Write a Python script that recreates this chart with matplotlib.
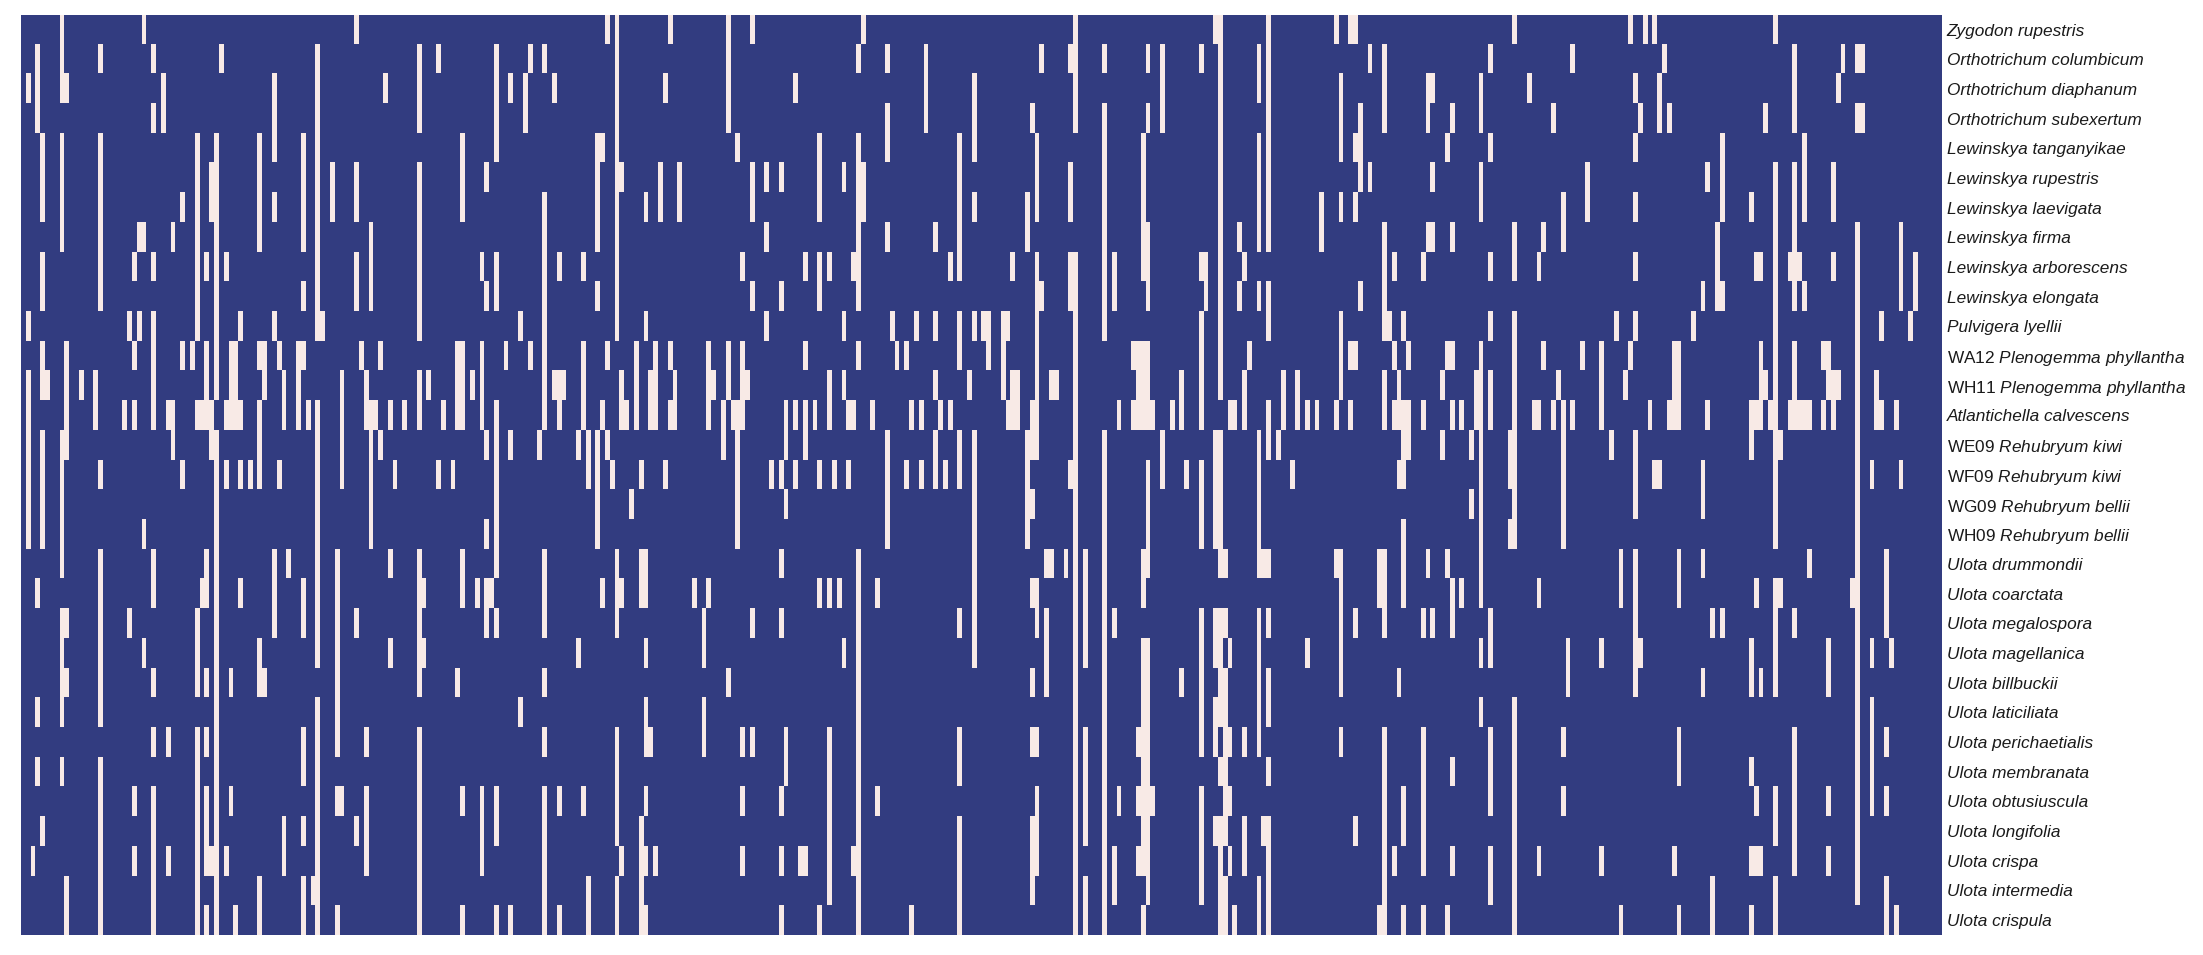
import re
import numpy as np
import matplotlib
matplotlib.use("Agg")
import matplotlib.pyplot as plt
from matplotlib.colors import ListedColormap

plt.rcParams['font.family'] = ['Liberation Sans', 'DejaVu Sans']
plt.rcParams['mathtext.fontset'] = 'custom'
plt.rcParams['mathtext.rm'] = 'Liberation Sans'
plt.rcParams['mathtext.it'] = 'Liberation Sans:italic'

taxa = ["Zygodon rupestris", "Orthotrichum columbicum", "Orthotrichum diaphanum", "Orthotrichum subexertum",
        "Lewinskya tanganyikae", "Lewinskya rupestris", "Lewinskya laevigata", "Lewinskya firma",
        "Lewinskya arborescens", "Lewinskya elongata", "Pulvigera lyellii",
        "WA12 Plenogemma phyllantha", "WH11 Plenogemma phyllantha", "Atlantichella calvescens",
        "WE09 Rehubryum kiwi", "WF09 Rehubryum kiwi", "WG09 Rehubryum bellii", "WH09 Rehubryum bellii",
        "Ulota drummondii", "Ulota coarctata", "Ulota megalospora", "Ulota magellanica", "Ulota billbuckii",
        "Ulota laticiliata", "Ulota perichaetialis", "Ulota membranata", "Ulota obtusiuscula",
        "Ulota longifolia", "Ulota crispa", "Ulota intermedia", "Ulota crispula"]
n_columns = 398

# column index -> rows (by taxon index) where the character is present
present_a = {1:"2 10 12-17", 2:"28", 3:"1-3 19 23 25", 4:"4-6 8-9 11-12 14-17 27", 5:"12",
 8:"0-2 4-7 14-18 20-23 25", 9:"2 11-14 20 22 29-30", 12:"12", 15:"12-13",
 16:"1 4-9 15 18-23 25-30", 21:"13", 22:"10 20", 23:"8 11 13 26 28", 24:"7 10", 25:"0 7 17 21",
 27:"1 3 8 10-13 18-19 22 24 26-30", 29:"2-3", 30:"13 24 28", 31:"7 13 14", 33:"6 11 15", 35:"11",
 36:"4-10 13 20-22 24-30", 37:"13 19", 38:"8 11-13 18-19 22 24 26-28 30", 39:"5-6 13 14 28",
 40:"4-12 14-30", 41:"1", 42:"8 13 15 28", 43:"11-13 22 26", 44:"11-13 30", 45:"10 13 15 19", 47:"15",
 49:"4-7 11 13-15 21-22 29-30", 50:"11-12 22", 52:"2-4 6 10 18-20", 53:"11 15", 54:"12-13 27-28", 55:"18",
 57:"11-13", 58:"4-7 9 11 19-20 24-25 27 29-30", 59:"13", 60:"29", 61:"1-10 13-21 23-30", 62:"10",
 64:"5-6", 65:"18-24 26 30", 66:"12-15 26", 69:"0 5-6 8-9 20 27", 70:"11", 71:"12-13 24 26-28",
 72:"7-9 13-17", 73:"13", 74:"11 14", 75:"2", 76:"13 18 21", 77:"15", 79:"13",
 82:"1-3 5-10 12-13 18-22 24-30", 83:"19 21", 84:"12", 86:"1 15", 87:"13", 89:"15", 90:"11-13 22",
 91:"4-6 11-13 18-19 26 30", 93:"12", 94:"19", 95:"8 11-13 26-28", 96:"5 9 14 17 19-20", 97:"19",
 98:"1-4 8-9 13-18 20 26-27 30"}

present_b = {100:"11", 101:"2 14 30", 103:"10 23", 104:"2-3", 105:"1 11", 107:"14",
 108:"1 6-13 18-20 22 24 26-30", 110:"2 12", 111:"8 12-13 26 30", 112:"12", 115:"14 21", 116:"8 11-13 26",
 117:"14-15 29-30", 119:"4-7 9 14-17", 120:"4 13 19", 121:"0 11 14", 122:"15", 123:"0-10 18-20 24-27 29-30",
 124:"5 12-13 19 28", 125:"13", 126:"16", 127:"11-13", 128:"15 18-19 27-30",
 129:"6 10 18-19 21 23-24 26 28 30", 130:"12-13 24", 131:"11-13 28", 132:"5-6", 133:"2 15", 134:"0 11 13",
 135:"12-13", 136:"5-6", 139:"19", 141:"20-21 23-24", 142:"11-13 19", 143:"12", 145:"13-14", 146:"0-3 11-12 22",
 147:"13", 148:"4 13-17", 149:"8 11-13 24 26 28", 150:"12", 151:"0 5-6 9 20 24", 154:"5 7 10", 155:"15",
 157:"5 9 15 18 20 26 28 30", 158:"13-14 16 24-25", 160:"2 13 15", 161:"28", 162:"8 11 13-14 28", 164:"13",
 165:"4-6 8-9 15 19 30", 167:"8 12-13 19 24-29", 168:"15", 169:"19", 170:"5 10 12 21", 171:"13 15",
 172:"8 13 28", 173:"1 4-9 11 18-30", 174:"0 5-6", 176:"13", 177:"19 26", 179:"1 3-4 7 14-17", 180:"10",
 181:"11", 183:"11 15", 184:"13 30", 185:"10", 186:"13 15", 187:"1-3", 189:"7 10 12 14-15", 190:"13", 191:"15",
 192:"8 13", 194:"4-8 10-11 14-15 20 24-25 27-30", 196:"12", 197:"2-4 6 10 14-21", 199:"10", 200:"10-11"}

present_c = {203:"10-12", 204:"10 13", 205:"8 12-13", 206:"12-13", 208:"6-7 14-17",
 209:"3 13-14 16 19 22 24 27-29", 210:"4-6 8-14 19-20 24 26-28", 211:"1 9", 212:"18 20-22", 213:"12 18", 214:"12",
 216:"18", 217:"1 5-6 8-9 15", 218:"0-3 8-30", 220:"18-21 24-27 29-30", 224:"1 3-10 14-30", 226:"8-9 20 28-29",
 227:"13 26", 230:"11 13", 231:"11-13 24 26 28", 232:"4-8 11-13 18-19 21-28 30", 233:"1 3 7-9 11-13 15-18 21-29",
 234:"13 26", 236:"1-3 14-15", 238:"13", 240:"12-13 22", 241:"15", 244:"1 8 10-13 15-17 20-24 26-29", 245:"8-9",
 247:"0 14-17 20-21 23-24 27", 248:"0-12 14-18 20-23 25 27-30", 249:"18 20 22-27 29-30", 250:"13 21 24 26 28",
 251:"13 30", 252:"7 9", 253:"8 12-13 24 27-28", 254:"11", 256:"1-2 4-7 9 14-18 20-24 29-30", 257:"18 27",
 258:"0-7 9-10 13-14 18 20 22-23 25 27-30", 260:"14", 261:"12-13", 263:"15", 264:"12-13", 266:"13 21", 268:"13",
 269:"6-7", 272:"0 13 18", 273:"2-4 6 10-12 18-22 24", 275:"0 11 13", 276:"0 4 6 11 20 27", 277:"3-5 9",
 279:"1 5", 281:"18-19 30", 282:"1-3 7-10 12-13 18-20 24-30", 283:"10", 284:"8 11 13 28", 285:"12-13 15 22",
 286:"10 13-15 17-19 26-27 30", 287:"11 13-14", 290:"8 13 20 24-28 30", 291:"2-3 7 18", 292:"2 5 7 20",
 294:"12 14", 295:"4 11 18 30", 296:"3 7 11 13 19-20 25 28", 298:"13 19", 300:"14 16", 301:"12-13",
 302:"2-3 5-6 11-19 21 23", 304:"1 4 8 10 12-13 20-21 24-26 28-29"}

present_d = {308:"14-15 17", 309:"0 7-8 10-17 23-30", 312:"2", 313:"13", 314:"8 13 19 28", 315:"7 11", 317:"3 13",
 318:"12", 319:"6-7 13-17 24 26", 320:"21-22", 321:"1 13", 323:"11", 324:"5-6", 327:"11-13 21 28", 329:"14",
 330:"10", 331:"18-19 30", 332:"12", 333:"0 11", 334:"2 4 6 8 10 14-16 18-22", 335:"3 21", 336:"0", 337:"13",
 338:"0 15", 339:"2-3 15", 340:"1", 341:"3 13", 342:"11-13 28", 343:"11-13 18-19 24-25 30", 346:"10",
 348:"9 15-16 18 22", 349:"5 13", 350:"20 29-30", 351:"7-9", 352:"4-6 9 20", 358:"6 13-14 21-22 25 28 30",
 359:"8 13 19 26 28", 360:"8 11-13 22 28", 361:"3 12", 362:"13", 363:"0 5-17 19-22 26-27 29-30", 364:"14 19",
 366:"8 13", 367:"1-3 5-9 11-13 20 24-28", 368:"8 13", 369:"4-6 9 13", 370:"13 18", 373:"11 13",
 374:"11-12 21-22 26 28", 375:"5-6 8 12-13", 376:"2 12", 377:"1", 379:"19", 380:"1 3 7-29", 381:"1 3",
 383:"15 21 23-26", 384:"12-13", 385:"10 13", 386:"18-20 24 26 29-30", 387:"21", 388:"13 30", 389:"7-9 15",
 391:"10", 392:"8-9"}

dark_colour = "#323C80"
light_colour = "#F8EAE6"

matrix = np.zeros((len(taxa), n_columns))
for block in (present_a, present_b, present_c, present_d):
    for col, rows in block.items():
        for part in rows.split():
            first, _, last = part.partition("-")
            matrix[int(first):int(last or first) + 1, col] = 1


def label(name):
    m = re.match(r"^(W[A-H]\d\d) (.+)$", name)
    if m:
        return m.group(1) + r" $\mathit{" + m.group(2).replace(" ", r"\ ") + "}$"
    return name


W, H = 2203, 955
fig = plt.figure(figsize=(W / 100, H / 100), dpi=100, facecolor="white")
ax = fig.add_axes([20.7 / W, 1 - 935.0 / H, 1920.6 / W, 920.3 / H])
ax.imshow(matrix, cmap=ListedColormap([dark_colour, light_colour]), vmin=0, vmax=1,
          aspect="auto", interpolation="nearest")
ax.set_xticks([])
ax.yaxis.tick_right()
ax.set_yticks(range(len(taxa)))
ax.set_yticklabels([label(t) for t in taxa], fontsize=12.4)
for t, lab in zip(taxa, ax.get_yticklabels()):
    lab.set_color("#1a1a1a")
    if not t.startswith("W"):
        lab.set_fontstyle("italic")
ax.tick_params(axis="y", length=0, pad=3.8)
for s in ax.spines.values():
    s.set_visible(False)
fig.savefig("out.png", dpi=100, facecolor="white")
